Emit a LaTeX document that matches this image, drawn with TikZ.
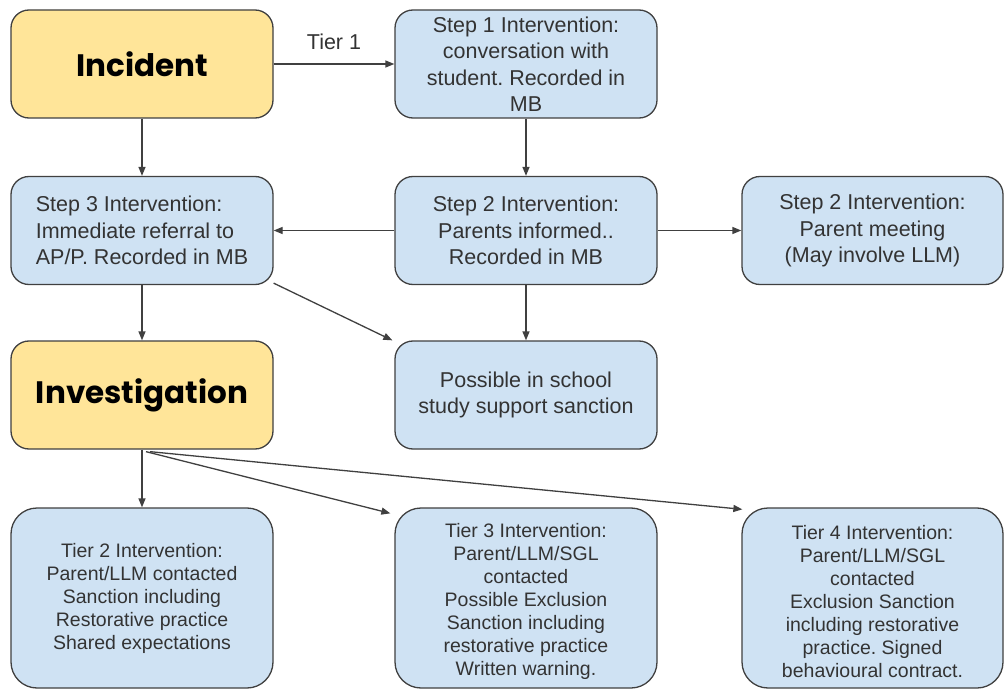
\documentclass[tikz,border=0pt]{standalone}
\usepackage{fontspec}
\setmainfont{Liberation Sans}
\newfontfamily\headfont{Poppins}
\usetikzlibrary{arrows.meta}
\frenchspacing
\definecolor{boxblue}{HTML}{CFE2F3}
\definecolor{boxyellow}{HTML}{FFE599}
\definecolor{edgecol}{HTML}{404040}
\definecolor{txt}{HTML}{333333}
\tikzset{
  box/.style={draw=edgecol, line width=1.3pt, rounded corners=18pt, fill=boxblue,
    minimum width=262pt, minimum height=108pt, inner sep=0pt, align=center,
    font=\fontsize{21.5}{26.5}\selectfont, text=txt},
  hbox/.style={box, fill=boxyellow, font=\headfont\bfseries\fontsize{31}{36}\selectfont, text=black},
  tbox/.style={box, minimum height=180pt, rounded corners=26pt, font=\fontsize{19.5}{23}\selectfont},
  arr/.style={draw=edgecol, line width=1.3pt, -{Triangle[length=9pt,width=7pt]}},
  lbl/.style={font=\fontsize{21.5}{26}\selectfont, text=txt}
}
\begin{document}
\begin{tikzpicture}[x=1pt,y=-1pt]
\useasboundingbox[fill=white] (0,0) rectangle (1005,690);
\node[hbox] (inc) at (142,64) {Incident};
\node[box] (s1) at (526,64) {Step 1 Intervention:\\conversation with\\student. Recorded in\\MB};
\node[box, align=left] (s3) at (142,230.5) {Step 3 Intervention:\\Immediate referral to\\AP/P. Recorded in MB};
\node[box] (s2) at (526,230.5) {Step 2 Intervention:\\Parents informed..\\Recorded in MB};
\node[box, minimum width=261pt] (s2r) at (872.5,230.5) {Step 2 Intervention:\\Parent meeting\\(May involve LLM)};
\node[hbox] (inv) at (142,395) {Investigation};
\node[box] (pos) at (526,395) {Possible in school\\study support sanction};
\node[tbox] (t2) at (142,598) {Tier 2 Intervention:\\Parent/LLM contacted\\Sanction including\\Restorative practice\\Shared expectations};
\node[tbox] (t3) at (526,598) {\\[-2pt]Tier 3 Intervention:\\Parent/LLM/SGL\\contacted\\Possible Exclusion\\Sanction including\\restorative practice\\Written warning.};
\node[tbox, minimum width=261pt] (t4) at (872.5,598) {\\[-2pt]Tier 4 Intervention:\\Parent/LLM/SGL\\contacted\\Exclusion Sanction\\including restorative\\practice. Signed\\behavioural contract.};
\draw[arr] (inc.east) -- node[lbl, midway, above=10pt] {Tier 1} (s1.west);
\draw[arr] (inc.south) -- (s3.north);
\draw[arr] (s1.south) -- (s2.north);
\draw[arr] (s2.west) -- (s3.east);
\draw[arr] (s2.east) -- (s2r.west);
\draw[arr] (s3.south) -- (inv.north);
\draw[arr] ([yshift=2pt]s3.south east) -- ([xshift=-2pt]pos.north west);
\draw[arr] (s2.south) -- (pos.north);
\draw[arr] (inv.south) -- (t2.north);
\draw[arr] ([xshift=4pt,yshift=-2pt]inv.south) -- ([xshift=-4pt,yshift=-6pt]t3.north west);
\draw[arr] ([xshift=8pt,yshift=-2pt]inv.south) -- ([xshift=1pt,yshift=-2pt]t4.north west);
\end{tikzpicture}
\end{document}
